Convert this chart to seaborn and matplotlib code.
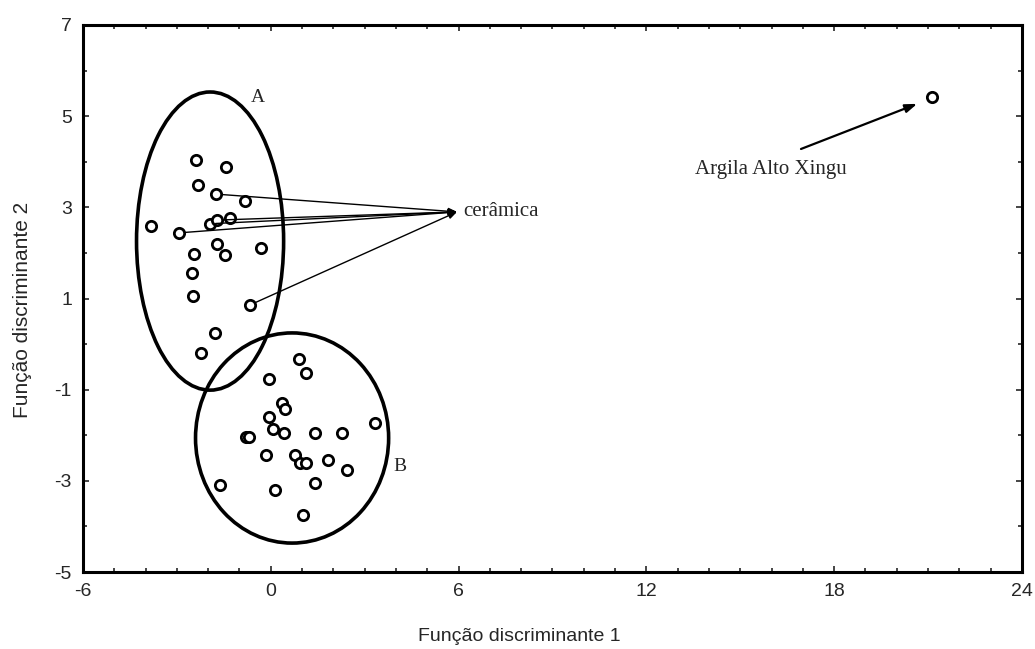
import matplotlib
matplotlib.use("Agg")
import matplotlib.pyplot as plt
from matplotlib.patches import Ellipse
from matplotlib.ticker import MultipleLocator
import seaborn as sns
import pandas as pd

# ---- data ----
grupo_a_x = [-2.39, -1.43, -2.33, -1.75, -0.82, -3.83, -2.93, -1.94, -1.72, -1.30,
             -1.72, -1.46, -0.31, -2.45, -2.52, -2.49, -0.66, -1.78, -2.23]
grupo_a_y = [4.04, 3.89, 3.49, 3.29, 3.14, 2.59, 2.44, 2.64, 2.72, 2.77,
             2.20, 1.96, 2.11, 1.98, 1.56, 1.06, 0.86, 0.25, -0.19]
grupo_b_x = [0.90, 1.12, -0.06, 0.36, 0.45, -0.06, 0.07, 0.42, -0.79, -0.70,
             1.41, 2.27, 3.33, -0.15, 0.77, 0.93, 1.12, 1.83, 2.43, -1.62,
             0.13, 1.41, 1.03]
grupo_b_y = [-0.32, -0.63, -0.76, -1.29, -1.42, -1.60, -1.86, -1.95, -2.04, -2.04,
             -1.95, -1.95, -1.73, -2.43, -2.43, -2.61, -2.61, -2.54, -2.76, -3.09,
             -3.20, -3.04, -3.75]
argila_x = [21.12]
argila_y = [5.42]
# cerâmica samples linked to the "cerâmica" label
ceramica_x = [-1.75, -1.94, -1.72, -2.93, -0.66]
ceramica_y = [3.29, 2.64, 2.72, 2.44, 0.86]
ceramica_alvo = (5.95, 2.90)

x_ticks = [-6, 0, 6, 12, 18, 24]
y_ticks = [-5, -3, -1, 1, 3, 5, 7]
x_label = "Função discriminante 1"
y_label = "Função discriminante 2"

df = pd.DataFrame({
    "x": grupo_a_x + grupo_b_x + argila_x,
    "y": grupo_a_y + grupo_b_y + argila_y,
})

sns.set_style("ticks")
plt.rcParams["font.family"] = ["Liberation Sans", "DejaVu Sans"]
plt.rcParams["axes.unicode_minus"] = False

fig = plt.figure(figsize=(10.35, 6.49), dpi=100)
ax = fig.add_axes([0.0802, 0.1186, 0.9874 - 0.0802, 0.9615 - 0.1186])

sns.scatterplot(data=df, x="x", y="y", ax=ax, marker="o", s=55,
                facecolor="white", edgecolor="black", linewidth=2.0, zorder=3)

# ellipses
ax.add_patch(Ellipse((-1.94, 2.26), 4.70, 6.54, fill=False, lw=2.6, ec="black", zorder=2))
ax.add_patch(Ellipse((0.68, -2.06), 6.17, 4.61, fill=False, lw=2.6, ec="black", zorder=2))

serif = ["Liberation Serif", "DejaVu Serif"]
ax.text(-0.41, 5.40, "A", family=serif, fontsize=14, ha="center", va="center")
ax.text(4.13, -2.68, "B", family=serif, fontsize=14, ha="center", va="center")

# cerâmica links
for cx, cy in zip(ceramica_x, ceramica_y):
    ax.annotate("", xy=ceramica_alvo, xytext=(cx, cy),
                arrowprops=dict(arrowstyle="-|>,head_length=0.5,head_width=0.2",
                                color="black", lw=1.0, shrinkA=4, shrinkB=0))
ax.text(ceramica_alvo[0] + 0.2, ceramica_alvo[1], "cerâmica", family=serif,
        fontsize=15, ha="left", va="center")

# Argila arrow
ax.annotate("", xy=(20.65, 5.27), xytext=(16.94, 4.28),
            arrowprops=dict(arrowstyle="-|>,head_length=0.7,head_width=0.25",
                            color="black", lw=1.6, shrinkA=0, shrinkB=0))
ax.text(15.98, 3.82, "Argila Alto Xingu", family=serif, fontsize=15,
        ha="center", va="center")

ax.set_xlim(-6, 24)
ax.set_ylim(-5, 7)
ax.set_xticks(x_ticks)
ax.set_yticks(y_ticks)
ax.xaxis.set_minor_locator(MultipleLocator(1))
ax.yaxis.set_minor_locator(MultipleLocator(1))
ax.tick_params(which="both", direction="in", top=True, right=True, width=1.2)
ax.tick_params(which="major", length=4, labelsize=14, pad=8)
ax.tick_params(which="minor", length=3)
for sp in ax.spines.values():
    sp.set_linewidth(2.2)
    sp.set_color("black")

ax.set_xlabel(x_label, fontsize=14)
ax.set_ylabel(y_label, fontsize=15)
ax.xaxis.set_label_coords(0.465, -0.102)
ax.yaxis.set_label_coords(-0.054, 0.479)

fig.savefig("out.png", dpi=100)
